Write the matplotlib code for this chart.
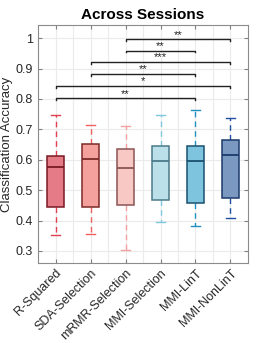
import numpy as np
import matplotlib
matplotlib.use("Agg")
import matplotlib.pyplot as plt

plt.rcParams["font.family"] = ["Liberation Sans", "DejaVu Sans"]

# dados
methods = ["R-Squared", "SDA-Selection", "mRMR-Selection", "MMI-Selection", "MMI-LinT", "MMI-NonLinT"]
whislo = [0.352, 0.355, 0.303, 0.396, 0.382, 0.408]
q1 = [0.446, 0.445, 0.451, 0.468, 0.457, 0.474]
med = [0.577, 0.602, 0.574, 0.596, 0.596, 0.616]
q3 = [0.612, 0.651, 0.635, 0.646, 0.646, 0.665]
whishi = [0.747, 0.714, 0.710, 0.747, 0.765, 0.738]

# comparacoes significativas (grupo i, grupo j, altura, rotulo)
sig_from = [3, 3, 2, 2, 1, 1]
sig_to = [6, 5, 6, 5, 6, 5]
sig_y = [0.996, 0.959, 0.921, 0.882, 0.843, 0.802]
sig_lab = ["**", "**", "***", "**", "*", "**"]

fills = ["#e47b86", "#f4a09c", "#f8c8c4", "#bce0ea", "#7ec4de", "#7a98c0"]
edges = ["#7a1a24", "#7a2a28", "#8a5454", "#4a7a88", "#1a5070", "#1a3a6a"]
whisk = ["#e04050", "#f06060", "#f5a0a0", "#80c8e0", "#2090c0", "#2050a0"]

fig = plt.figure(figsize=(2.74, 3.43), dpi=100)
ax = fig.add_axes([0.139, 0.233, 0.766, 0.694])

stats = []
for i in range(len(methods)):
    stats.append({"whislo": whislo[i], "q1": q1[i], "med": med[i],
                  "q3": q3[i], "whishi": whishi[i], "fliers": []})

pos = np.arange(1, len(methods) + 1)
bp = ax.bxp(stats, positions=pos, widths=0.5, patch_artist=True,
            showfliers=False, capwidths=0.24)
for i in range(len(methods)):
    bp["boxes"][i].set(facecolor=fills[i], edgecolor=edges[i], linewidth=1.1, zorder=3)
    bp["medians"][i].set(color=edges[i], linewidth=1.3, zorder=4)
    for w in bp["whiskers"][2 * i:2 * i + 2]:
        w.set(color=whisk[i], linestyle=(0, (4, 3)), linewidth=1.0, zorder=2)
    for c in bp["caps"][2 * i:2 * i + 2]:
        c.set(color=whisk[i], linewidth=1.0, zorder=2)

# barras de significancia
for a, b, y, lab in zip(sig_from, sig_to, sig_y, sig_lab):
    ax.plot([a, a, b, b], [y - 0.006, y, y, y - 0.006], color="#222222", lw=1.0, zorder=5)
    ax.text((a + b) / 2, y - 0.001, lab, ha="center", va="bottom", fontsize=8, color="#222222")

ax.set_xlim(0.5, 6.5)
ax.set_ylim(0.26, 1.043)
ax.set_yticks([0.3, 0.4, 0.5, 0.6, 0.7, 0.8, 0.9, 1.0])
ax.set_yticklabels(["0.3", "0.4", "0.5", "0.6", "0.7", "0.8", "0.9", "1"])
ax.set_xticks(pos)
ax.set_xticklabels(methods, rotation=45, ha="right", rotation_mode="anchor")
ax.set_xticks(np.arange(1.5, 6.5, 1), minor=True)
ax.grid(True, which="both", color="#ebebeb", lw=0.8, zorder=0)
ax.set_axisbelow(True)
ax.tick_params(axis="both", which="both", direction="in", top=True, right=True,
               labelsize=9, colors="#808080", labelcolor="#262626", length=3)
ax.tick_params(axis="x", which="minor", length=0)
ax.tick_params(axis="x", pad=3)
for s in ax.spines.values():
    s.set_color("#8c8c8c")
    s.set_linewidth(0.8)
ax.set_ylabel("Classification Accuracy", fontsize=9.5, color="#262626", labelpad=2)
ax.set_title("Across Sessions", fontsize=11, fontweight="bold", pad=4)

fig.savefig("out.png", dpi=100)
